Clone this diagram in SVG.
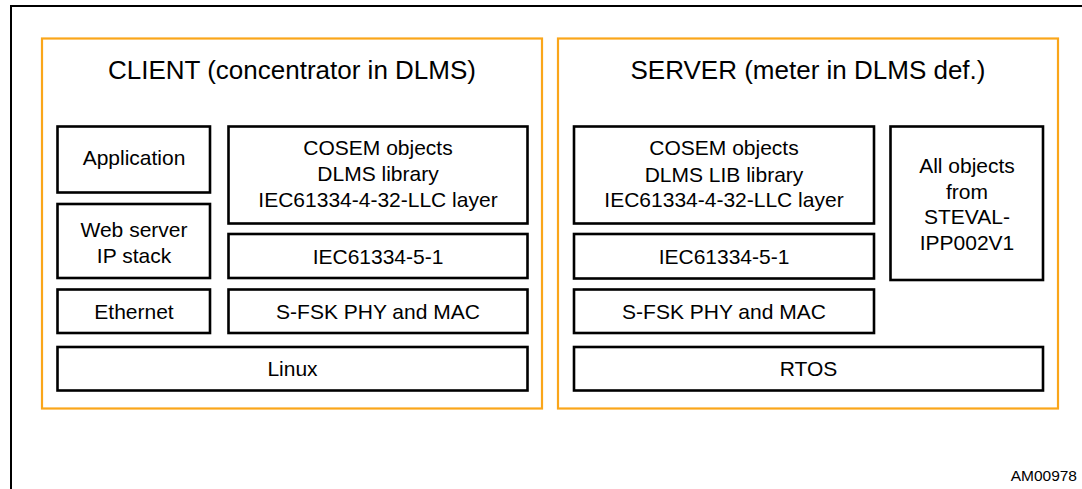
<svg xmlns="http://www.w3.org/2000/svg" width="1082" height="489" viewBox="0 0 1082 489">
<style>
.frame{fill:none;stroke:#000;stroke-width:2}
.panel{fill:none;stroke:#FAA61A;stroke-width:2.2}
.box{fill:#fff;stroke:#000;stroke-width:2.6}
text{font-family:"Liberation Sans",Arial,sans-serif;fill:#000;text-anchor:middle}
.title{font-size:26px}
.lbl{font-size:21px}
.ref{font-size:15.5px;text-anchor:end}
</style>
<rect width="1082" height="489" fill="#fff"/>
<path class="frame" d="M11,490 V6 H1083"/>
<g id="client">
<rect class="panel" x="42" y="38.5" width="500" height="370"/>
<text class="title" x="292" y="79">CLIENT (concentrator in DLMS)</text>
</g>
<g id="server">
<rect class="panel" x="558" y="38.5" width="500" height="370"/>
<text class="title" x="808" y="79">SERVER (meter in DLMS def.)</text>
</g>
<g id="c-application">
<rect class="box" x="57.5" y="126.5" width="152.5" height="66"/>
<text class="lbl" x="134" y="165">Application</text>
</g>
<g id="c-cosem">
<rect class="box" x="228.5" y="126.5" width="299" height="97"/>
<text class="lbl" x="378" y="155">COSEM objects</text>
<text class="lbl" x="378" y="181">DLMS library</text>
<text class="lbl" x="378" y="206.5">IEC61334-4-32-LLC layer</text>
</g>
<g id="c-webserver">
<rect class="box" x="57.5" y="204" width="152.5" height="74"/>
<text class="lbl" x="134" y="237">Web server</text>
<text class="lbl" x="134" y="263">IP stack</text>
</g>
<g id="c-iec">
<rect class="box" x="228.5" y="234" width="299" height="44"/>
<text class="lbl" x="378" y="264">IEC61334-5-1</text>
</g>
<g id="c-ethernet">
<rect class="box" x="57.5" y="289.5" width="152.5" height="43.5"/>
<text class="lbl" x="134" y="319">Ethernet</text>
</g>
<g id="c-sfsk">
<rect class="box" x="228.5" y="289.5" width="299" height="43.5"/>
<text class="lbl" x="378" y="319">S-FSK PHY and MAC</text>
</g>
<g id="c-linux">
<rect class="box" x="57.5" y="347" width="470" height="43.5"/>
<text class="lbl" x="292.5" y="376">Linux</text>
</g>
<g id="s-cosem">
<rect class="box" x="574" y="126.5" width="300" height="97"/>
<text class="lbl" x="724" y="155">COSEM objects</text>
<text class="lbl" x="724" y="181.5">DLMS LIB library</text>
<text class="lbl" x="724" y="206.5">IEC61334-4-32-LLC layer</text>
</g>
<g id="s-iec">
<rect class="box" x="574" y="234" width="300" height="44.5"/>
<text class="lbl" x="724" y="264">IEC61334-5-1</text>
</g>
<g id="s-sfsk">
<rect class="box" x="574" y="289.5" width="300" height="43.5"/>
<text class="lbl" x="724" y="319">S-FSK PHY and MAC</text>
</g>
<g id="s-allobjects">
<rect class="box" x="890.5" y="126.5" width="152.5" height="153.5"/>
<text class="lbl" x="967" y="172.5">All objects</text>
<text class="lbl" x="967" y="198.5">from</text>
<text class="lbl" x="967" y="224">STEVAL-</text>
<text class="lbl" x="967" y="249.5">IPP002V1</text>
</g>
<g id="s-rtos">
<rect class="box" x="574" y="347" width="469" height="43.5"/>
<text class="lbl" x="808.5" y="376">RTOS</text>
</g>
<g id="connectors"></g>
<text class="ref" x="1077" y="481">AM00978</text>
</svg>
